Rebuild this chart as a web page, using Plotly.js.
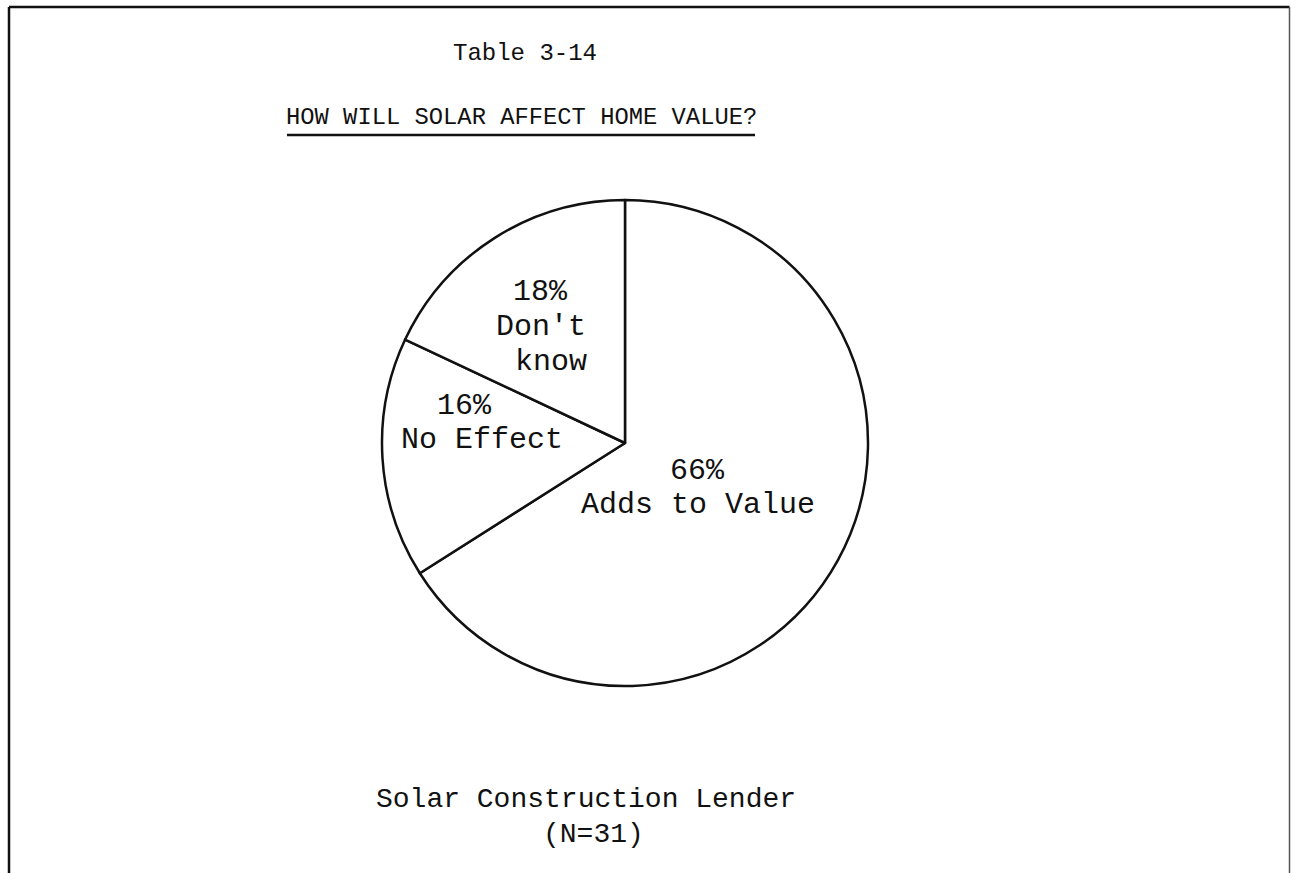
<!DOCTYPE html>
<html>
<head>
<meta charset="utf-8">
<script src="https://cdn.plot.ly/plotly-3.0.1.min.js"></script>
<style>
  html, body { margin: 0; padding: 0; background: #fff; }
  #chart { width: 1291px; height: 873px; }
</style>
</head>
<body>
<div id="chart"></div>
<script>
// ---- data ----
const categories = ["Adds to Value", "No Effect", "Don't know"];
const values = [66, 16, 18];
const labelLines = [["Adds to Value"], ["No Effect"], ["Don't", "know"]];
const tableNumber = "Table 3-14";
const chartTitle = "HOW WILL SOLAR AFFECT HOME VALUE?";
const groupName = "Solar Construction Lender";
const sampleSize = 31;

// ---- layout helpers (pixel -> paper) ----
const W = 1291, H = 873;
const px = x => x / W;
const py = y => 1 - y / H;
const FONT = "Liberation Mono, Courier New, monospace";
const INK = "#111111";

// pie geometry
const cx = 625, cy = 443, r = 243;

const pieTrace = {
  type: "pie",
  labels: categories,
  values: values,
  sort: false,
  direction: "clockwise",
  rotation: 0,
  textinfo: "none",
  hoverinfo: "label+percent",
  showlegend: false,
  marker: {
    colors: categories.map(() => "#ffffff"),
    line: { color: INK, width: 2.5 }
  },
  domain: { x: [px(cx - r), px(cx + r)], y: [py(cy + r), py(cy - r)] }
};

// label blocks: per-line centre x, and block middle y (pixels)
const labelBlocks = [
  { xs: [697, 698], ym: 488 },        // Adds to Value
  { xs: [464, 482], ym: 423 },        // No Effect
  { xs: [540, 541, 551], ym: 327 }    // Don't know
];
const LABEL_PX = 30;
const LINE_PX = 34.5;

const annotations = [];
function addText(text, x, y, size) {
  annotations.push({
    text: text, xref: "paper", yref: "paper",
    x: px(x), y: py(y), xanchor: "center", yanchor: "middle",
    showarrow: false, font: { family: FONT, size: size, color: INK }
  });
}

categories.forEach((c, i) => {
  const lines = [values[i] + "%"].concat(labelLines[i]);
  const b = labelBlocks[i];
  const y0 = b.ym - (lines.length - 1) * LINE_PX / 2;
  lines.forEach((t, j) => addText(t, b.xs[j], y0 + j * LINE_PX, LABEL_PX));
});

addText(tableNumber, 525, 53, 24);
addText(chartTitle, 521, 118, 23.8);
addText(groupName, 586, 799, 28);
addText("(N=" + sampleSize + ")", 593, 834, 28);

const shapes = [
  // page frame (open at bottom)
  { type: "line", xref: "paper", yref: "paper", x0: px(9), x1: px(9), y0: py(7), y1: -0.02,
    line: { color: INK, width: 2.5 } },
  { type: "line", xref: "paper", yref: "paper", x0: px(9), x1: px(1289.5), y0: py(7), y1: py(7),
    line: { color: INK, width: 2.5 } },
  { type: "line", xref: "paper", yref: "paper", x0: px(1289.5), x1: px(1289.5), y0: py(7), y1: -0.02,
    line: { color: "#555", width: 1.5 } },
  // title underline
  { type: "line", xref: "paper", yref: "paper", x0: px(287), x1: px(755), y0: py(135), y1: py(135),
    line: { color: INK, width: 2.5 } }
];

const layout = {
  width: W, height: H,
  margin: { l: 0, r: 0, t: 0, b: 0, pad: 0 },
  paper_bgcolor: "#ffffff",
  plot_bgcolor: "#ffffff",
  showlegend: false,
  annotations: annotations,
  shapes: shapes
};

Plotly.newPlot("chart", [pieTrace], layout, { displayModeBar: false });
</script>
</body>
</html>
